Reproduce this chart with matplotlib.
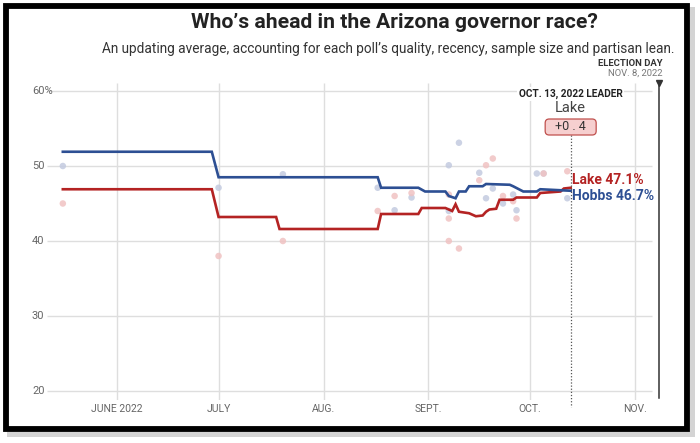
import matplotlib
matplotlib.use("Agg")
import matplotlib.pyplot as plt
import matplotlib.dates as mdates
from matplotlib.patches import Rectangle, FancyBboxPatch
from matplotlib.transforms import blended_transform_factory, IdentityTransform
import datetime as dt

# ---------------- data ----------------
hobbs_dates = ["2022-05-16", "2022-06-29", "2022-07-01", "2022-08-17", "2022-08-18",
               "2022-08-29", "2022-08-31", "2022-09-06", "2022-09-07", "2022-09-09",
               "2022-09-10", "2022-09-12", "2022-09-13", "2022-09-17", "2022-09-18",
               "2022-09-25", "2022-09-26", "2022-09-29", "2022-10-03", "2022-10-04",
               "2022-10-13"]
hobbs_avg = [51.9, 51.9, 48.5, 48.5, 47.1, 47.1, 46.6, 46.6, 46.0, 45.7,
             46.6, 46.6, 47.3, 47.3, 47.6, 47.5, 47.3, 46.6, 46.6, 46.9, 46.7]

lake_dates = ["2022-05-16", "2022-06-29", "2022-07-01", "2022-07-18", "2022-07-19",
              "2022-08-17", "2022-08-18", "2022-08-29", "2022-08-30", "2022-09-06",
              "2022-09-08", "2022-09-09", "2022-09-10", "2022-09-13", "2022-09-15",
              "2022-09-17", "2022-09-18", "2022-09-19", "2022-09-21", "2022-09-22",
              "2022-09-26", "2022-09-27", "2022-10-03", "2022-10-04", "2022-10-10",
              "2022-10-11", "2022-10-13"]
lake_avg = [46.9, 46.9, 43.2, 43.2, 41.6, 41.6, 43.6, 43.6, 44.4, 44.4,
            44.0, 44.9, 43.9, 43.7, 43.3, 43.4, 43.9, 44.2, 44.3, 45.5,
            45.5, 45.8, 45.8, 46.4, 46.6, 47.0, 47.1]

hobbs_poll_dates = ["2022-05-16", "2022-07-01", "2022-07-20", "2022-08-17", "2022-08-22",
                    "2022-08-27", "2022-09-07", "2022-09-07", "2022-09-10", "2022-09-16",
                    "2022-09-18", "2022-09-20", "2022-09-23", "2022-09-26", "2022-09-27",
                    "2022-10-03", "2022-10-05", "2022-10-12"]
hobbs_polls = [50.0, 47.1, 48.9, 47.1, 44.1, 45.8, 50.1, 44.0, 53.1, 49.1,
               45.7, 47.0, 45.0, 46.2, 44.1, 49.0, 49.0, 45.7]

lake_poll_dates = ["2022-05-16", "2022-07-01", "2022-07-20", "2022-08-17", "2022-08-22",
                   "2022-08-27", "2022-09-07", "2022-09-07", "2022-09-07", "2022-09-10",
                   "2022-09-16", "2022-09-18", "2022-09-20", "2022-09-23", "2022-09-26",
                   "2022-09-27", "2022-10-05", "2022-10-12"]
lake_polls = [45.0, 38.0, 40.0, 44.0, 46.0, 46.4, 46.2, 43.0, 40.0, 39.0,
              48.1, 50.1, 51.0, 46.0, 45.3, 43.0, 49.0, 49.3]

month_ticks = ["2022-06-01", "2022-07-01", "2022-08-01", "2022-09-01", "2022-10-01", "2022-11-01"]
month_labels = ["JUNE 2022", "JULY", "AUG.", "SEPT.", "OCT.", "NOV."]
y_ticks = [20, 30, 40, 50, 60]
y_labels = ["20", "30", "40", "50", "60%"]

leader_date = "2022-10-13"
election_date = "2022-11-08"
lake_final = 47.1
hobbs_final = 46.7
margin = "+0 . 4"

# ---------------- style ----------------
BLUE = "#2d4f93"
RED = "#b42323"
BLUE_DOT = "#c3cbe0"
RED_DOT = "#f0c2c2"
GRID = "#dedede"
FONT = "Roboto"

def d(s):
    return mdates.date2num(dt.datetime.strptime(s, "%Y-%m-%d"))

W, H = 700, 443
fig = plt.figure(figsize=(7, 4.43), dpi=100)
fig.patch.set_facecolor("white")

# frame with soft shadow (drawn behind everything)
fig.patches.append(Rectangle((7 / W, 1 - 437 / H), 688 / W, 430 / H, transform=fig.transFigure,
                             fc="#d4d4d4", ec="none", zorder=-3))
fig.patches.append(Rectangle((3 / W, 1 - 432 / H), 687 / W, 429 / H, transform=fig.transFigure,
                             fc="white", ec="none", zorder=-2))
fig.patches.append(Rectangle((5.75 / W, 1 - 429.25 / H), 681.5 / W, 423.5 / H,
                             transform=fig.transFigure, fill=False, ec="black", lw=4.2, zorder=-1))

# axes geometry (pixels)
ax_left, ax_right, ax_top, ax_bot = 47, 665, 83, 400
ax = fig.add_axes([ax_left / W, 1 - ax_bot / H, (ax_right - ax_left) / W, (ax_bot - ax_top) / H])
ax.set_facecolor("none")

px_per_day = (635 - 117) / (d("2022-11-01") - d("2022-06-01"))
x0 = d("2022-06-01") - (117 - ax_left) / px_per_day
x1 = d("2022-06-01") + (ax_right - 117) / px_per_day
ytop = 60 + 8 / 7.5
ax.set_xlim(x0, x1)
ax.set_ylim(18.8, ytop)
for s in ax.spines.values():
    s.set_visible(False)
ax.set_xticks([])
ax.set_yticks([])

# grid
grid_right = d("2022-06-01") + (652 - 117) / px_per_day
ax.hlines(y_ticks, x0, grid_right, color=GRID, lw=1, zorder=0)
ax.vlines([d(m) for m in month_ticks], 18.8, ytop, color=GRID, lw=1, zorder=0)

# y labels
tY = blended_transform_factory(fig.transFigure, ax.transData)
for v, lab in zip(y_ticks, y_labels):
    ax.text(32 / W, v, lab, transform=tY, ha="left", va="center", fontsize=8,
            color="#666666", family=FONT, clip_on=False)

# x labels
tX = blended_transform_factory(ax.transData, fig.transFigure)
for m, lab in zip(month_ticks, month_labels):
    ax.text(d(m), 1 - 409 / H, lab, transform=tX, ha="center", va="center", fontsize=7.5,
            color="#666666", family=FONT, clip_on=False)

# poll dots
ax.scatter([d(x) for x in hobbs_poll_dates], hobbs_polls, s=22, color=BLUE_DOT, alpha=0.85,
           edgecolors="none", zorder=2)
ax.scatter([d(x) for x in lake_poll_dates], lake_polls, s=22, color=RED_DOT, alpha=0.85,
           edgecolors="none", zorder=2)

# averages
ax.plot([d(x) for x in lake_dates], lake_avg, color=RED, lw=1.9, zorder=3,
        solid_joinstyle="miter")
ax.plot([d(x) for x in hobbs_dates], hobbs_avg, color=BLUE, lw=1.9, zorder=4,
        solid_joinstyle="miter")

# election day
ed = d(election_date)
ax.plot([ed, ed], [19.07, ytop], color="#333333", lw=1.1, clip_on=False, zorder=5)
ax.plot([ed], [ytop], marker="v", color="#333333", ms=5, clip_on=False, zorder=6)
fig.text(663 / W, 1 - 63 / H, "ELECTION DAY", ha="right", va="center", fontsize=6.8,
         fontweight="bold", color="#333333", family=FONT)
fig.text(663 / W, 1 - 73.5 / H, "NOV. 8, 2022", ha="right", va="center", fontsize=6.8,
         color="#777777", family=FONT)

# leader line & annotation
ld = d(leader_date)
ax.plot([ld, ld], [60 - (135 - 91) / 7.5, 18.8 - 7 / 7.5], color="#555555", lw=0.9,
        ls=(0, (1, 1.5)), clip_on=False, zorder=5)
ax.text(ld, 60 - (94 - 91) / 7.5, "OCT. 13, 2022 LEADER", ha="center", va="center",
        fontsize=7.3, fontweight="bold", color="#222222", family=FONT, clip_on=False,
        bbox=dict(boxstyle="square,pad=0.15", fc="white", ec="none"), zorder=6)
ax.text(ld, 60 - (108.5 - 91) / 7.5, "Lake", ha="center", va="center", fontsize=10.5,
        color="#444444", family=FONT, clip_on=False, zorder=6)
box_c = 60 - (127 - 91) / 7.5
cx, cy = ax.transData.transform((ld, box_c))
bw, bh = 51, 16
ax.add_artist(FancyBboxPatch((cx - bw / 2, cy - bh / 2), bw, bh,
                             boxstyle="round,pad=0,rounding_size=4", transform=IdentityTransform(),
                             fc="#f6cfcf", ec="#c0504d", lw=0.9, clip_on=False, zorder=6))
ax.text(ld, box_c, margin, ha="center", va="center", fontsize=9,
        color="#333333", family=FONT, clip_on=False, zorder=7)

# end labels
ax.text(ld + 0.5, lake_final + 1.0, f"Lake {lake_final}%", ha="left", va="center",
        fontsize=10, fontweight="bold", color=RED, family=FONT, clip_on=False, zorder=6)
ax.text(ld + 0.5, hobbs_final - 0.7, f"Hobbs {hobbs_final}%", ha="left", va="center",
        fontsize=10, fontweight="bold", color=BLUE, family=FONT, clip_on=False, zorder=6)

# titles
fig.text(394 / W, 1 - 22 / H, "Who’s ahead in the Arizona governor race?", ha="center",
         va="center", fontsize=15.2, fontweight="bold", color="#222222", family=FONT)
fig.text(675 / W, 1 - 49 / H,
         "An updating average, accounting for each poll’s quality, recency, sample size and partisan lean.",
         ha="right", va="center", fontsize=9.8, color="#333333", family=FONT)

fig.savefig("out.png", dpi=100, facecolor="white")
